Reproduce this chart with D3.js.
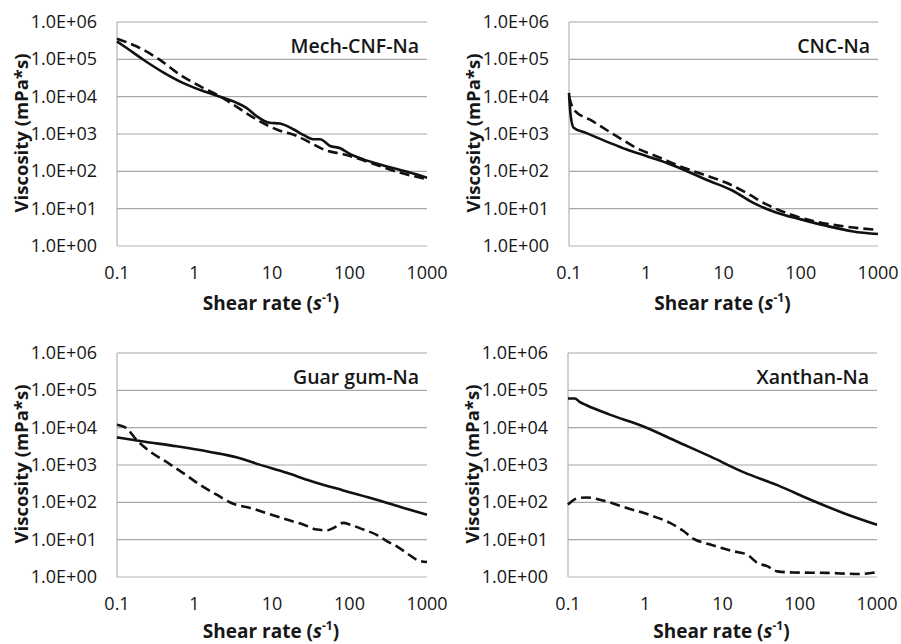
<!DOCTYPE html>
<html>
<head>
<meta charset="utf-8">
<script src="https://cdn.jsdelivr.net/npm/d3@7"></script>
<style>
  body { margin: 0; background: #fff; }
  svg { display: block; font-family: "Open Sans", sans-serif; }
</style>
</head>
<body>
<div id="chart"></div>
<script>
// shear rate ticks and viscosity ticks (log axes)
const xTicks = [0.1, 1, 10, 100, 1000];
const yTicks = [1, 1e1, 1e2, 1e3, 1e4, 1e5, 1e6];
const yTickLabels = ["1.0E+00", "1.0E+01", "1.0E+02", "1.0E+03", "1.0E+04", "1.0E+05", "1.0E+06"];
const panelNames = ["Mech-CNF-Na", "CNC-Na", "Guar gum-Na", "Xanthan-Na"];

// [log10(shear rate), log10(viscosity)]
const cnfSolid = [[-1,5.48],[-0.88,5.31],[-0.66,4.99],[-0.41,4.66],[-0.15,4.37],[0.11,4.15],[0.37,3.97],[0.54,3.84],[0.67,3.70],[0.80,3.48],[0.97,3.30],[1.10,3.28],[1.28,3.12],[1.41,2.97],[1.53,2.86],[1.62,2.86],[1.75,2.68],[1.88,2.62],[2.01,2.46],[2.18,2.32],[2.35,2.21],[2.57,2.08],[2.78,1.97],[3.0,1.83]];
const cnfDash = [[-1,5.55],[-0.75,5.35],[-0.45,4.99],[-0.19,4.59],[0.07,4.28],[0.33,4.01],[0.50,3.79],[0.63,3.61],[0.80,3.39],[1.06,3.12],[1.32,2.95],[1.49,2.77],[1.71,2.55],[1.92,2.46],[2.14,2.32],[2.35,2.17],[2.61,1.99],[3.0,1.79]];
const cncSolid = [[-1,4.10],[-0.98,3.52],[-0.94,3.17],[-0.78,3.03],[-0.48,2.77],[-0.26,2.59],[0.0,2.41],[0.26,2.23],[0.52,2.01],[0.82,1.74],[1.12,1.48],[1.38,1.16],[1.68,0.90],[1.99,0.72],[2.33,0.54],[2.68,0.39],[3.0,0.32]];
const cncDash = [[-1,4.00],[-0.94,3.66],[-0.70,3.35],[-0.39,2.95],[-0.13,2.63],[0.17,2.37],[0.43,2.14],[0.73,1.92],[1.03,1.70],[1.29,1.43],[1.55,1.12],[1.86,0.85],[2.16,0.67],[2.51,0.54],[3.0,0.43]];
const guarSolid = [[-1,3.74],[-0.66,3.63],[-0.23,3.50],[0.20,3.35],[0.54,3.21],[0.84,3.01],[1.19,2.79],[1.49,2.58],[1.92,2.32],[2.35,2.07],[2.70,1.85],[3.0,1.67]];
const guarDash = [[-1,4.08],[-0.88,3.99],[-0.75,3.68],[-0.58,3.37],[-0.36,3.08],[-0.15,2.79],[0.07,2.47],[0.28,2.21],[0.50,1.96],[0.72,1.85],[0.93,1.71],[1.19,1.54],[1.41,1.40],[1.58,1.27],[1.71,1.25],[1.79,1.31],[1.92,1.45],[2.01,1.40],[2.18,1.27],[2.35,1.13],[2.48,0.96],[2.61,0.82],[2.74,0.64],[2.87,0.46],[3.0,0.40]];
const xanSolid = [[-1,4.78],[-0.91,4.78],[-0.85,4.69],[-0.76,4.60],[-0.46,4.35],[-0.03,4.04],[0.41,3.63],[0.84,3.23],[1.27,2.81],[1.71,2.46],[2.14,2.07],[2.57,1.71],[3.0,1.40]];
const xanDash = [[-1,1.94],[-0.89,2.10],[-0.76,2.13],[-0.53,2.04],[-0.24,1.85],[0.10,1.63],[0.32,1.45],[0.49,1.24],[0.62,1.03],[0.84,0.87],[1.14,0.69],[1.32,0.60],[1.45,0.38],[1.58,0.29],[1.71,0.15],[1.92,0.12],[2.35,0.11],[2.78,0.08],[3.0,0.13]];

const solids = [cnfSolid, cncSolid, guarSolid, xanSolid];
const dashes = [cnfDash, cncDash, guarDash, xanDash];

const W = 901, H = 644;
const svg = d3.select("#chart").append("svg")
  .attr("width", W)
  .attr("height", H);

// plot area of each panel
const panels = [
  {left: 117, right: 427, top: 22, bottom: 246, titleY: 310},
  {left: 569, right: 878, top: 22, bottom: 246, titleY: 310},
  {left: 117, right: 427, top: 353, bottom: 577, titleY: 638},
  {left: 568, right: 877, top: 353, bottom: 577, titleY: 638}
];

const ink = "#161616";

panels.forEach((p, i) => {
  const x = d3.scaleLog().domain([0.1, 1000]).range([p.left, p.right]);
  const y = d3.scaleLog().domain([1, 1e6]).range([p.bottom, p.top]);
  const g = svg.append("g");

  // gridlines
  g.selectAll(".grid").data(yTicks).join("line")
    .attr("x1", p.left).attr("x2", p.right)
    .attr("y1", d => y(d)).attr("y2", d => y(d))
    .attr("stroke", d => d === 1 ? "#b4b4b4" : "#a6a6a6")
    .attr("stroke-width", 1.2);

  // left axis line
  g.append("line")
    .attr("x1", p.left).attr("x2", p.left)
    .attr("y1", p.top).attr("y2", p.bottom)
    .attr("stroke", "#b4b4b4")
    .attr("stroke-width", 1.2);

  // y tick labels
  g.selectAll(".ylab").data(yTicks).join("text")
    .attr("x", p.left - 20)
    .attr("y", (d, j) => y(d) + 6)
    .attr("text-anchor", "end")
    .attr("font-size", "18px")
    .attr("fill", ink)
    .text((d, j) => yTickLabels[j]);

  // x tick labels
  g.selectAll(".xlab").data(xTicks).join("text")
    .attr("x", d => x(d))
    .attr("y", p.bottom + 33)
    .attr("text-anchor", "middle")
    .attr("font-size", "18px")
    .attr("fill", ink)
    .text(d => d3.format("~g")(d));

  // axis titles
  g.append("text")
    .attr("transform", `translate(${p.left - 97},${(p.top + p.bottom) / 2 - 1}) rotate(-90)`)
    .attr("text-anchor", "middle")
    .attr("dominant-baseline", "central")
    .attr("font-size", "18.5px")
    .attr("font-weight", "bold")
    .attr("fill", ink)
    .text("Viscosity (mPa*s)");

  const xt = g.append("text")
    .attr("x", (p.left + p.right) / 2 - 1)
    .attr("y", p.titleY)
    .attr("text-anchor", "middle")
    .attr("font-size", "19px")
    .attr("font-weight", "bold")
    .attr("fill", ink);
  xt.append("tspan").text("Shear rate (");
  xt.append("tspan").attr("font-style", "italic").text("s");
  xt.append("tspan").attr("dy", -8).attr("font-size", "12px").text("-1");
  xt.append("tspan").attr("dy", 8).text(")");

  // panel name
  g.append("text")
    .attr("x", p.right - 8)
    .attr("y", p.top + 31)
    .attr("text-anchor", "end")
    .attr("font-size", "19.5px")
    .attr("font-weight", 600)
    .attr("fill", ink)
    .text(panelNames[i]);

  const line = d3.line()
    .x(d => x(Math.pow(10, d[0])))
    .y(d => y(Math.pow(10, d[1])))
    .curve(d3.curveMonotoneX);

  g.append("path")
    .datum(dashes[i])
    .attr("d", line)
    .attr("fill", "none")
    .attr("stroke", "#111")
    .attr("stroke-width", 2.6)
    .attr("stroke-dasharray", "10,5");

  g.append("path")
    .datum(solids[i])
    .attr("d", line)
    .attr("fill", "none")
    .attr("stroke", "#111")
    .attr("stroke-width", 2.6);
});
</script>
</body>
</html>
